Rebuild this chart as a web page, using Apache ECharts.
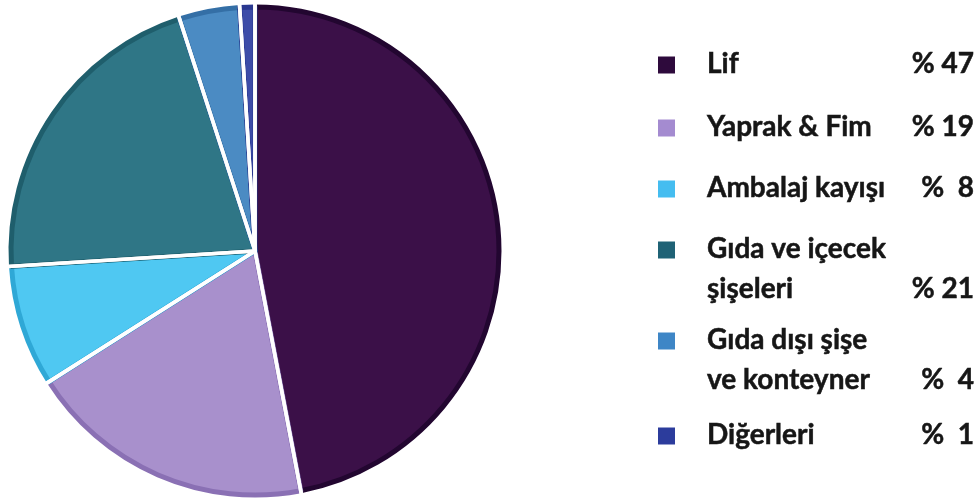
<!DOCTYPE html>
<html>
<head>
<meta charset="utf-8">
<script src="https://cdn.jsdelivr.net/npm/echarts@6/dist/echarts.min.js"></script>
<style>
  html, body { margin: 0; padding: 0; background: #ffffff; }
  #chart { width: 980px; height: 502px; }
</style>
</head>
<body>
<div id="chart"></div>
<script>
// Plastic waste composition (percent shares)
const categories = ['Lif', 'Yaprak & Fim', 'Ambalaj kayışı', 'Gıda ve içecek\nşişeleri', 'Gıda dışı şişe\nve konteyner', 'Diğerleri'];
const shares = [47, 19, 8, 21, 4, 1];

const fillColors = ['#3b1048', '#a890cc', '#4fc8f2', '#2f7686', '#4b8bc3', '#3d4ca8'];
const edgeColors = ['#220630', '#8a70b4', '#2fa8d6', '#1f5e6c', '#346fa6', '#2a3890'];
const swatchColors = ['#2e0a3c', '#a48bd0', '#45bdf0', '#1f6275', '#3e86c6', '#2c3c9c'];

// Legend layout: centre of the first text line of each entry
const legendRowY = [64, 127, 188, 249, 340, 435];
const legendLineGap = 40;
const swatchX = 658, swatchSize = 17, nameX = 707, pctRight = 974;
const legendFont = 'bold 28px Lato, "Open Sans", sans-serif';

const pieData = categories.map((c, i) => ({ name: c, value: shares[i] }));

function pctText(v) {
  return v < 10 ? '%  ' + v : '% ' + v;
}

const legendElements = [];
categories.forEach((name, i) => {
  const y = legendRowY[i];
  legendElements.push({
    type: 'rect',
    shape: { x: swatchX, y: y - swatchSize / 2 + 1, width: swatchSize, height: swatchSize },
    style: { fill: swatchColors[i] }
  });
  const lines = name.split('\n');
  lines.forEach((line, k) => {
    legendElements.push({
      type: 'text',
      style: {
        text: line, x: nameX, y: y + k * legendLineGap,
        font: legendFont, fill: '#161616',
        stroke: '#161616', lineWidth: 0.5,
        align: 'left', verticalAlign: 'middle'
      }
    });
  });
  legendElements.push({
    type: 'text',
    style: {
      text: pctText(shares[i]), x: pctRight, y: y + (lines.length - 1) * legendLineGap,
      font: legendFont, fill: '#161616',
      stroke: '#161616', lineWidth: 0.5,
      align: 'right', verticalAlign: 'middle'
    }
  });
});

const chart = echarts.init(document.getElementById('chart'), null, { renderer: 'canvas' });
chart.setOption({
  backgroundColor: '#ffffff',
  animation: false,
  series: [
    {
      // filled slices with a darker rim of their own hue
      type: 'pie',
      center: [255, 251],
      radius: [0, 244],
      startAngle: 90,
      clockwise: true,
      silent: true,
      label: { show: false },
      labelLine: { show: false },
      data: pieData.map((d, i) => ({
        name: d.name, value: d.value,
        itemStyle: { color: fillColors[i], borderColor: edgeColors[i], borderWidth: 5 }
      }))
    },
    {
      // white separators between slices
      type: 'pie',
      center: [255, 251],
      radius: [0, 262],
      startAngle: 90,
      clockwise: true,
      silent: true,
      label: { show: false },
      labelLine: { show: false },
      itemStyle: { color: 'rgba(0,0,0,0)', borderColor: '#ffffff', borderWidth: 3.6 },
      data: pieData
    }
  ],
  graphic: { elements: legendElements }
});
</script>
</body>
</html>
